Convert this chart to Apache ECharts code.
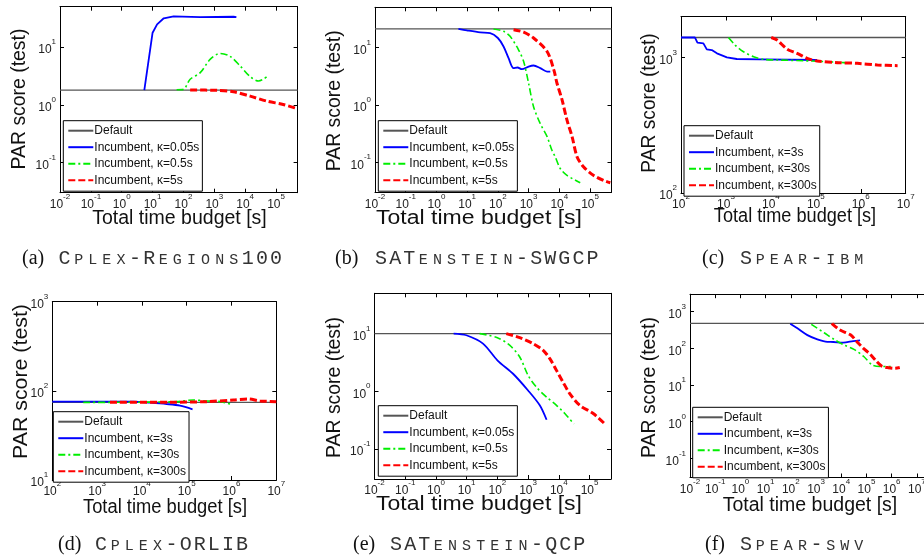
<!DOCTYPE html>
<html><head><meta charset="utf-8">
<script src="https://cdn.jsdelivr.net/npm/echarts@6/dist/echarts.min.js"></script>
<style>html,body{margin:0;padding:0;background:#fff}#c{width:924px;height:559px}</style>
</head><body><div id="c"></div>
<script>
// ---------- DATA ----------
const X_TITLE = 'Total time budget [s]';
const Y_TITLE = 'PAR score (test)';
const LEG_SHORT = ['Default', 'Incumbent, \u03ba=0.05s', 'Incumbent, \u03ba=0.5s', 'Incumbent, \u03ba=5s'];
const LEG_LONG = ['Default', 'Incumbent, \u03ba=3s', 'Incumbent, \u03ba=30s', 'Incumbent, \u03ba=300s'];
const CAP_TAGS = ['(a)', '(b)', '(c)', '(d)', '(e)', '(f)'];
// lowercase letters are drawn as small capitals
const CAP_NAMES = ['Cplex-Regions100', 'SATenstein-SWGCP', 'Spear-ibm', 'Cplex-ORLIB', 'SATenstein-QCP', 'Spear-swv'];

// (a) Cplex-Regions100
const XR_A = [0.01, 5e5], YR_A = [0.03, 50], DEF_A = 1.8;
const A1_X = [5.4, 10, 14, 23, 48, 350, 4200, 5200];
const A1_Y = [1.8, 17.7, 24.7, 31.5, 34, 33, 33.5, 33];
const A2_X = [60, 100, 165, 350, 730, 1540, 3240, 6900, 14500, 27000, 39000, 50000];
const A2_Y = [1.82, 1.85, 2.77, 3.6, 6.1, 7.75, 6.9, 4.7, 3.07, 2.58, 2.77, 3.07];
const A3_X = [165, 1200, 4200, 14500, 50000, 170000, 420000, 500000];
const A3_Y = [1.8, 1.78, 1.68, 1.41, 1.16, 1.01, 0.88, 0.85];

// (b) SATenstein-SWGCP
const XR_B = [0.01, 5e5], YR_B = [0.03, 50], DEF_B = 21;
const B1_X = [5.2, 9.8, 26.5, 56, 100, 153, 223, 324, 437, 603, 1000, 1450, 2400, 4000, 5100];
const B1_Y = [21, 19.8, 18.3, 17.8, 14.6, 10.4, 6.5, 4.35, 4.47, 4.18, 4.65, 4.85, 4.35, 3.8, 3.8];
const B2_X = [72, 153, 250, 470, 690, 1000, 1450, 2400, 4000, 5800, 7400, 10700, 17800, 48000];
const B2_Y = [21, 19.1, 15.6, 9.1, 5.7, 2.38, 0.93, 0.47, 0.28, 0.16, 0.124, 0.078, 0.059, 0.044];
const B3_X = [324, 690, 1450, 4000, 6600, 8400, 12300, 17800, 26000, 38000, 62000, 132000, 282000, 457000];
const B3_Y = [20.4, 18.5, 14.6, 8.5, 4.1, 2.38, 1.22, 0.54, 0.28, 0.124, 0.083, 0.059, 0.048, 0.044];

// (c) Spear-ibm
const XR_C = [100, 1e7], YR_C = [100, 2000], DEF_C = 1400;
const C1_X = [100, 205, 232, 315, 375, 484, 630, 1050, 1740, 5800, 107000];
const C1_Y = [1400, 1400, 1282, 1268, 1145, 1132, 1070, 1000, 972, 967, 956];
const C2_X = [1140, 1600, 2460, 4130, 6900, 13700, 76000, 423000, 596000];
const C2_Y = [1400, 1232, 1100, 1011, 967, 956, 940, 914, 903];
const C3_X = [10200, 13700, 22900, 38400, 64000, 107000, 300000, 840000, 2350000, 6600000];
const C3_Y = [1400, 1341, 1151, 1070, 984, 940, 914, 903, 878, 868];

// (d) Cplex-ORLIB
const XR_D = [100, 1e7], YR_D = [10, 1000], DEF_D = 74.3;
const D1_X = [100, 6500, 15300, 35700, 71000, 135000];
const D1_Y = [75.7, 75.7, 73.6, 71.1, 68.2, 62.1];
const D2_X = [490, 6500, 60000, 141000, 280000, 560000, 930000];
const D2_Y = [74.3, 74.5, 75.7, 79, 77, 75.7, 71];
const D3_X = [1940, 40000, 280000, 1100000, 2370000, 4300000, 10000000];
const D3_Y = [74.3, 74.5, 75.7, 79, 81, 77, 75.7];

// (e) SATenstein-QCP
const XR_E = [0.01, 5e5], YR_E = [0.03, 50], DEF_E = 10;
const E1_X = [3.77, 9.8, 34, 100, 324, 1000, 2400, 4000];
const E1_Y = [10, 9.35, 6.7, 3.44, 2.01, 1.03, 0.57, 0.32];
const E2_X = [26.5, 100, 250, 535, 1000, 1860, 4000, 8400, 15700, 31000];
const E2_Y = [10, 8.5, 6.3, 3.93, 1.88, 1.18, 0.79, 0.57, 0.41, 0.27];
const E3_X = [195, 535, 1450, 3100, 5100, 8400, 13700, 22700, 48000, 132000, 295000];
const E3_Y = [10, 8.5, 6.7, 5.13, 3.67, 2.3, 1.44, 0.91, 0.57, 0.41, 0.28];

// (f) Spear-swv
const XR_F = [0.01, 6.3e7], YR_F = [0.03, 3000], DEF_F = 480;
const F1_X = [95, 183, 455, 1130, 2800, 4900, 12000, 30000, 56000];
const F1_Y = [470, 351, 230, 176, 150, 149, 143, 158, 166];
const F2_X = [650, 2100, 5200, 13000, 32000, 80000, 172000, 370000, 920000];
const F2_Y = [450, 267, 176, 123, 94, 59, 35, 32, 32];
const F3_X = [4300, 4600, 9000, 24000, 42000, 76000, 138000, 240000, 400000, 740000, 1350000, 2100000];
const F3_Y = [480, 453, 316, 230, 152, 100, 70, 46, 33, 29.6, 28.5, 30];

// ---------- LAYOUT / STYLE ----------
const FONT = '"Liberation Sans", Arial, sans-serif';
// xt: [cx, cy, scaleX]  yt: [cx, cy, scaleAlong]  cap: [tagX, nameX, y]
const PANELS = [
  {g: [60, 6.7, 237.6, 186], xr: XR_A, yr: YR_A, d: DEF_A, s: [[A1_X, A1_Y], [A2_X, A2_Y], [A3_X, A3_Y]], leg: LEG_SHORT, lp: [63.3, 120.7],
   xt: [179.5, 219, 1.0], yt: [20, 99, 1.0], cap: [22, 57.5, 258.5], sm: [false, 0.3, 0.3]},
  {g: [375, 7.3, 236.5, 185], xr: XR_B, yr: YR_B, d: DEF_B, s: [[B1_X, B1_Y], [B2_X, B2_Y], [B3_X, B3_Y]], leg: LEG_SHORT, lp: [378.3, 120.7],
   xt: [479, 219, 1.18], yt: [335, 100.8, 1.0], cap: [335, 374, 258.5], sm: [0.3, 0.3, 0.3]},
  {g: [681, 16.5, 224.7, 176.5], xr: XR_C, yr: YR_C, d: DEF_C, s: [[C1_X, C1_Y], [C2_X, C2_Y], [C3_X, C3_Y]], leg: LEG_LONG, lp: [684, 125.7],
   xt: [795, 217, 0.93], yt: [650, 103, 0.99], cap: [702, 739, 258.5], sm: [false, 0.3, 0.3]},
  {g: [52.3, 301.7, 224, 178.3], xr: XR_D, yr: YR_D, d: DEF_D, s: [[D1_X, D1_Y], [D2_X, D2_Y], [D3_X, D3_Y]], leg: LEG_LONG, lp: [53.3, 411.7],
   xt: [165, 508, 0.94], yt: [21.7, 381.5, 1.1], cap: [58, 94, 545], sm: [0.3, 0.3, 0.3]},
  {g: [374.5, 293.3, 236.5, 185.7], xr: XR_E, yr: YR_E, d: DEF_E, s: [[E1_X, E1_Y], [E2_X, E2_Y], [E3_X, E3_Y]], leg: LEG_SHORT, lp: [378.3, 405.7],
   xt: [479, 505, 1.18], yt: [335, 387.5, 1.0], cap: [353, 389, 545], sm: [0.3, 0.3, 0.3]},
  {g: [690, 294.2, 247, 183.3], xr: XR_F, yr: YR_F, d: DEF_F, s: [[F1_X, F1_Y], [F2_X, F2_Y], [F3_X, F3_Y]], leg: LEG_LONG, lp: [692.7, 407.3],
   xt: [810, 506, 1.0], yt: [650, 387.5, 1.0], cap: [705, 739, 545], sm: [0.3, 0.3, 0.3]}
];
const TITLE_FS = 19.5;
const LINE_STYLES = [
  {color: '#0000ff', width: 1.8},
  {color: '#00ee00', width: 1.6, type: [7, 3, 2, 3]},
  {color: '#ff0000', width: 3, type: [7, 3]}
];
const DEFAULT_STYLE = {color: '#555555', width: 1.3};

function zip(xs, ys) { return xs.map((x, i) => [x, ys[i]]); }
// decades that fall inside an axis range
function decades(r) {
  const out = [];
  for (let e = Math.ceil(Math.log10(r[0]) - 1e-9); e <= Math.floor(Math.log10(r[1]) + 1e-9); e++) out.push(Math.pow(10, e));
  return out;
}
function decadeLabel(v) {
  const e = Math.log10(v), r = Math.round(e);
  if (Math.abs(e - r) > 1e-6) return '';
  return '{b|10}{s|' + r + '}';
}
const TICK_RICH = {
  b: {fontSize: 12, fontFamily: FONT, color: '#222', lineHeight: 14, padding: [6, 0, 0, 0]},
  s: {fontSize: 8, fontFamily: FONT, color: '#222', lineHeight: 18, verticalAlign: 'top'}
};
function capRich(str) {
  let out = '';
  for (const ch of str) {
    if (/[a-z]/.test(ch)) out += '{S|' + ch.toUpperCase() + '}';
    else out += '{B|' + ch + '}';
  }
  return out;
}
const CAP_RICH = {
  B: {fontFamily: '"Liberation Mono", monospace', fontSize: 20, width: 14.1, align: 'center', lineHeight: 24, fill: '#333', color: '#333'},
  S: {fontFamily: '"Liberation Mono", monospace', fontSize: 15, width: 14.1, align: 'center', lineHeight: 24, padding: [3, 0, 0, 0], fill: '#333', color: '#333'}
};

const grids = [], xAxes = [], yAxes = [], series = [], legends = [], graphics = [];
PANELS.forEach((p, i) => {
  grids.push({left: p.g[0], top: p.g[1], width: p.g[2], height: p.g[3], containLabel: false, outerBoundsMode: 'none'});
  const common = {
    type: 'log', logBase: 10, gridIndex: i, splitNumber: 10,
    axisLine: {show: true, lineStyle: {color: '#000', width: 1}},
    splitLine: {show: false}, minorTick: {show: false}
  };
  const tick = (r) => ({show: true, inside: true, length: 4, lineStyle: {color: '#000', width: 1}, customValues: decades(r)});
  xAxes.push(Object.assign({}, common, {min: p.xr[0], max: p.xr[1], position: 'bottom', axisTick: tick(p.xr),
    axisLabel: {formatter: decadeLabel, rich: TICK_RICH, margin: 0, hideOverlap: false, customValues: decades(p.xr)}}));
  xAxes.push(Object.assign({}, common, {min: p.xr[0], max: p.xr[1], position: 'top', axisTick: tick(p.xr), axisLabel: {show: false}}));
  yAxes.push(Object.assign({}, common, {min: p.yr[0], max: p.yr[1], position: 'left', axisTick: tick(p.yr),
    axisLabel: {formatter: decadeLabel, rich: TICK_RICH, margin: 4, hideOverlap: false, customValues: decades(p.yr)}}));
  yAxes.push(Object.assign({}, common, {min: p.yr[0], max: p.yr[1], position: 'right', axisTick: tick(p.yr), axisLabel: {show: false}}));

  series.push({type: 'line', name: p.leg[0], xAxisIndex: 2 * i, yAxisIndex: 2 * i,
    data: [[p.xr[0], p.d], [p.xr[1], p.d]], symbol: 'none', showSymbol: false,
    lineStyle: DEFAULT_STYLE, itemStyle: {color: DEFAULT_STYLE.color}, z: 2});
  p.s.forEach((xy, k) => {
    series.push({type: 'line', name: p.leg[k + 1], xAxisIndex: 2 * i, yAxisIndex: 2 * i,
      data: zip(xy[0], xy[1]), symbol: 'none', showSymbol: false, smooth: p.sm[k],
      lineStyle: LINE_STYLES[k], itemStyle: {color: LINE_STYLES[k].color}, z: 3 + k});
  });

  legends.push({
    orient: 'vertical', left: p.lp[0], top: p.lp[1], data: p.leg.slice(),
    padding: [4, 3, 5, 4], itemGap: 4.5, itemWidth: 25, itemHeight: 12,
    borderColor: '#000', borderWidth: 1, borderRadius: 0, backgroundColor: '#fff',
    itemStyle: {opacity: 0}, selectedMode: false,
    textStyle: {fontFamily: FONT, fontSize: 12, color: '#111', padding: [0, 0, 0, -4]}
  });

  graphics.push({type: 'text', x: p.xt[0], y: p.xt[1], scaleX: p.xt[2], z: 10,
    style: {text: X_TITLE, font: TITLE_FS + 'px ' + FONT, fill: '#111', align: 'center', verticalAlign: 'middle'}});
  graphics.push({type: 'text', x: p.yt[0], y: p.yt[1], rotation: Math.PI / 2, scaleX: p.yt[2], z: 10,
    style: {text: Y_TITLE, font: '19.4px ' + FONT, fill: '#111', align: 'center', verticalAlign: 'middle'}});
  graphics.push({type: 'text', x: p.cap[0], y: p.cap[2], z: 10,
    style: {text: CAP_TAGS[i], font: '20px "Liberation Serif", serif', fill: '#111', align: 'left', verticalAlign: 'middle'}});
  graphics.push({type: 'text', x: p.cap[1], y: p.cap[2], z: 10,
    style: {text: capRich(CAP_NAMES[i]), rich: CAP_RICH, align: 'left', verticalAlign: 'middle', fill: '#333'}});
});

const chart = echarts.init(document.getElementById('c'), null, {renderer: 'canvas'});
chart.setOption({
  animation: false,
  backgroundColor: '#fff',
  grid: grids, xAxis: xAxes, yAxis: yAxes, series: series, legend: legends, graphic: graphics
});
</script>
</body></html>
